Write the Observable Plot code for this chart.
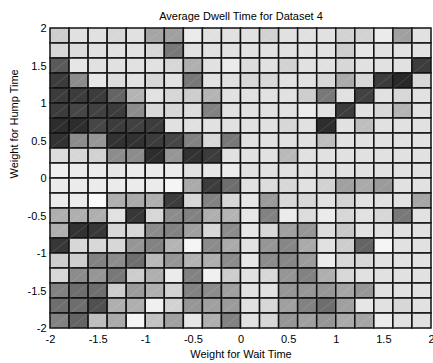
<!DOCTYPE html>
<html><head><meta charset="utf-8">
<script src="https://cdn.jsdelivr.net/npm/d3@7"></script>
<script src="https://cdn.jsdelivr.net/npm/@observablehq/plot@0.6"></script>
<style>body{margin:0;background:#fff;overflow:hidden}</style>
</head><body><div id="chart"></div>
<script>
const title = "Average Dwell Time for Dataset 4";
const xLabel = "Weight for Wait Time";
const yLabel = "Weight for Hump Time";
const waitWeights = [-1.9,-1.7,-1.5,-1.3,-1.1,-0.9,-0.7,-0.5,-0.3,-0.1,0.1,0.3,0.5,0.7,0.9,1.1,1.3,1.5,1.7,1.9];
const humpWeights = [1.9,1.7,1.5,1.3,1.1,0.9,0.7,0.5,0.3,0.1,-0.1,-0.3,-0.5,-0.7,-0.9,-1.1,-1.3,-1.5,-1.7,-1.9];
const cellSize = 0.2;
const tickValues = [-2,-1.5,-1,-0.5,0,0.5,1,1.5,2];
const tickLabels = ["-2","-1.5","-1","-0.5","0","0.5","1","1.5","2"];
// gray level of each cell (0 = black, 255 = white), rows from top (hump 1.9) to bottom (hump -1.9)
const dwellRows = [
 [205,225,225,215,225,165,160,235,225,225,225,210,225,225,225,210,210,235,160,225],
 [215,220,225,225,225,215,120,225,225,225,225,225,225,225,225,205,230,225,225,225],
 [ 90,230,225,225,225,225,215,175,225,235,220,225,210,225,225,215,225,225,225, 60],
 [ 60,140,230,220,225,215,225,120,225,225,215,215,225,225,215,170,215, 60, 40,215],
 [ 60, 60, 60,100,180,225,215,205,180,225,225,225,225,205,120,225, 65,225,215,225],
 [ 60, 70, 65, 60,140,215,215,220,130,225,225,225,225,235,225, 60,225,215,180,225],
 [ 45, 45, 70, 60, 65, 60,225,225,225,225,225,225,215,225, 45,225,190,225,225,225],
 [ 50,140,150, 50, 50, 60, 70,130,215,120,225,225,225,225,190,225,225,225,225,225],
 [220,215,210,140,140, 45,150, 50, 60,225,225,225,185,225,225,225,225,225,225,225],
 [240,235,235,230,235,235,235,225,230,235,225,225,225,225,225,225,225,225,225,225],
 [235,235,235,235,235,235,245,170, 60,110,225,220,215,225,210,160,170,155,225,225],
 [235,235,250,175,170,175, 60,215,130,215,230,155,215,215,225,210,225,225,225,165],
 [175,175,175,225, 55,215,140,130,175,180,230,130,235,220,235,215,225,215,120,225],
 [175, 50, 55,215,215,140,130,160,215,140,230,215,160,150,220,200,225,225,225,225],
 [ 55,215,215,215,150,130,180,245,140,170,225,150,135,170,225,205,100,245,225,225],
 [205,205,130,140,110,185,150,180,175,140,230,140,135,155,235,215,215,225,225,225],
 [215,140,150,120,205,175,235,130,240,205,225,215,150,130,175,215,225,225,225,225],
 [130,110,110,205,155,175,210,130,140,160,225,225,150,150,150,165,150,225,225,225],
 [110,110, 80,175,175,240,210,150,160,155,225,215,160,130,110,160,230,225,215,225],
 [130,100,190,170,245,195,160,230,175,130,225,215,150,160,150,170,165,235,225,225]
];
const cells = humpWeights.flatMap((h, i) => waitWeights.map((w, j) => ({w, h, v: dwellRows[i][j]})));
const fmt = d => tickLabels[tickValues.indexOf(d)];
const chart = Plot.plot({
  width: 433, height: 363,
  marginLeft: 50, marginRight: 2, marginTop: 28, marginBottom: 35,
  style: {fontFamily: "'Liberation Sans', Arial, sans-serif", fontSize: "11px", color: "#000", background: "#fff"},
  x: {domain: [-2, 2]},
  y: {domain: [-2, 2]},
  color: {type: "linear", domain: [0, 255], range: ["#000000", "#ffffff"]},
  marks: [
    Plot.rect(cells, {
      x1: d => d.w - cellSize / 2, x2: d => d.w + cellSize / 2,
      y1: d => d.h - cellSize / 2, y2: d => d.h + cellSize / 2,
      fill: "v", stroke: "#111", strokeWidth: 1.5
    }),
    Plot.link(cells, {
      x1: d => d.w - cellSize / 2, x2: d => d.w + cellSize / 2,
      y1: d => d.h - cellSize / 2, y2: d => d.h + cellSize / 2,
      stroke: "#fff", strokeOpacity: 0.18, strokeWidth: 0.7
    }),
    Plot.axisX({ticks: tickValues, tickFormat: fmt, tickSize: 0, tickPadding: 7, label: null, fontSize: 11}),
    Plot.axisY({ticks: tickValues, tickFormat: fmt, tickSize: 0, tickPadding: 4, label: null, fontSize: 11}),
    Plot.text([title], {frameAnchor: "top", dy: -12, lineAnchor: "middle", fontSize: 11}),
    Plot.text([xLabel], {frameAnchor: "bottom", dy: 26, lineAnchor: "middle", fontSize: 11}),
    Plot.text([yLabel], {frameAnchor: "left", dx: -36, rotate: -90, lineAnchor: "middle", fontSize: 11})
  ]
});
document.getElementById("chart").appendChild(chart);
</script>
</body></html>
